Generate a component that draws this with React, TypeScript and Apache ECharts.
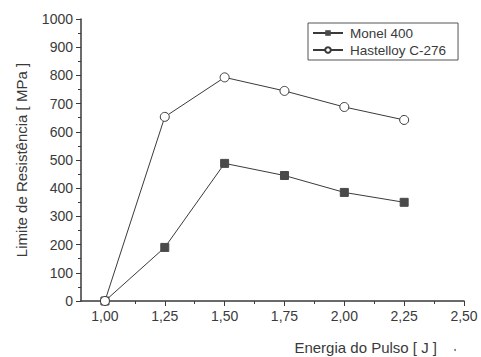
import React, { useEffect, useRef } from "react";
import * as echarts from "echarts";

const energy = [1.0, 1.25, 1.5, 1.75, 2.0, 2.25];
const monel400 = [0, 190, 488, 445, 385, 350];
const hastelloy = [0, 653, 793, 745, 688, 642];
const xTicks = [1.0, 1.25, 1.5, 1.75, 2.0, 2.25, 2.5];
const xMinorTicks = [1.125, 1.375, 1.625, 1.875, 2.125, 2.375];
const seriesNames = ["Monel 400", "Hastelloy C-276"];

const FONT = "'Liberation Sans', Arial, sans-serif";
const INK = "#3a3a3a";

export default function App() {
  const ref = useRef<HTMLDivElement>(null);
  useEffect(() => {
    const chart = echarts.init(ref.current!, null, { renderer: "svg" });
    chart.setOption({
      animation: false,
      backgroundColor: "#ffffff",
      textStyle: { fontFamily: FONT },
      grid: { left: 81, right: 17, top: 19, bottom: 56, containLabel: false },
      legend: {
        left: 308,
        top: 23,
        orient: "vertical",
        itemWidth: 30,
        itemHeight: 7,
        itemGap: 3,
        padding: [3, 12, 3, 4],
        borderColor: "#555",
        borderWidth: 1,
        borderRadius: 0,
        textStyle: { fontSize: 13.5, color: INK, fontFamily: FONT, padding: [0, 0, 0, 2] },
        data: seriesNames,
      },
      xAxis: [
        {
          type: "value",
          min: 0.9,
          max: 2.5,
          axisLine: { show: true, onZero: false, lineStyle: { color: INK, width: 1.5 } },
          axisTick: { show: true, length: 5, customValues: xTicks, lineStyle: { color: INK } },
          axisLabel: {
            customValues: xTicks,
            formatter: (v: number) => v.toFixed(2).replace(".", ","),
            fontSize: 14,
            color: INK,
            margin: 8,
          },
          splitLine: { show: false },
        },
        {
          type: "value",
          min: 0.9,
          max: 2.5,
          position: "bottom",
          axisLine: { show: false },
          axisTick: { show: true, length: 3, customValues: xMinorTicks, lineStyle: { color: INK } },
          axisLabel: { show: false, customValues: xMinorTicks },
          splitLine: { show: false },
        },
      ],
      yAxis: {
        type: "value",
        min: 0,
        max: 1000,
        interval: 100,
        name: "Limite de Resistência [ MPa ]",
        nameLocation: "middle",
        nameGap: 52,
        nameTextStyle: { fontSize: 15, color: INK, fontFamily: FONT },
        axisLine: { show: true, lineStyle: { color: INK, width: 1.5 } },
        axisTick: { show: true, length: 5, lineStyle: { color: INK } },
        minorTick: { show: true, splitNumber: 2, length: 3, lineStyle: { color: INK } },
        axisLabel: { fontSize: 14, color: INK, margin: 8, formatter: (v: number) => String(v) },
        splitLine: { show: false },
      },
      graphic: [
        {
          type: "text",
          right: 44,
          top: 340,
          style: { text: "Energia do Pulso [ J ]", fontSize: 15, fill: INK, fontFamily: FONT },
        },
        {
          type: "circle",
          shape: { cx: 455, cy: 350, r: 1 },
          style: { fill: "#777" },
        },
      ],
      series: [
        {
          name: seriesNames[0],
          type: "line",
          data: energy.map((x, i) => [x, monel400[i]]),
          symbol: "rect",
          symbolSize: 8,
          lineStyle: { color: INK, width: 1 },
          itemStyle: { color: "#4a4a4a", borderColor: "#4a4a4a" },
        },
        {
          name: seriesNames[1],
          type: "line",
          data: energy.map((x, i) => [x, hastelloy[i]]),
          symbol: "circle",
          symbolSize: 9,
          lineStyle: { color: INK, width: 1 },
          itemStyle: { color: "#ffffff", borderColor: INK, borderWidth: 1 },
        },
      ],
    });
    return () => chart.dispose();
  }, []);
  return (
    <div
      ref={ref}
      style={{ position: "fixed", left: 0, top: 0, width: 481, height: 357 }}
    />
  );
}
